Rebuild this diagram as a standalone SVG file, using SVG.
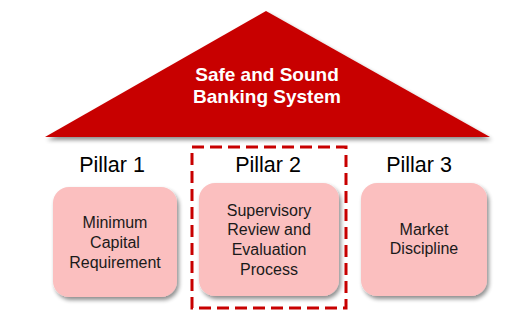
<svg xmlns="http://www.w3.org/2000/svg" width="509" height="331" viewBox="0 0 509 331">
<defs>
<filter id="sh" x="-10%" y="-10%" width="130%" height="130%">
<feGaussianBlur in="SourceAlpha" stdDeviation="2"/>
<feOffset dx="2" dy="3" result="b"/>
<feComponentTransfer><feFuncA type="linear" slope="0.45"/></feComponentTransfer>
<feMerge><feMergeNode/><feMergeNode in="SourceGraphic"/></feMerge>
</filter>
<style>
.box{fill:#fbbfbf;filter:url(#sh)}
.t{font-family:"Liberation Sans",Arial,sans-serif;font-size:16px;fill:#1a1a1a;text-anchor:middle}
.p{font-family:"Liberation Sans",Arial,sans-serif;font-size:21.5px;fill:#000;text-anchor:middle}
.w{font-family:"Liberation Sans",Arial,sans-serif;font-size:19px;font-weight:bold;fill:#fff;text-anchor:middle}
</style>
</defs>
<rect width="509" height="331" fill="#fff"/>
<g id="roof">
<polygon points="266,11 490,137 45,137" fill="#c80000" filter="url(#sh)"/>
<text class="w" x="267" y="81">Safe and Sound</text>
<text class="w" x="267" y="103">Banking System</text>
</g>
<g id="pillar2-frame">
<rect x="192" y="147" width="154" height="161" fill="none" stroke="#c80000" stroke-width="3" stroke-dasharray="12,6"/>
</g>
<g id="pillar1">
<text class="p" x="112" y="172">Pillar 1</text>
<rect class="box" x="53" y="187" width="124" height="110" rx="16"/>
<text class="t" x="115" y="228">Minimum</text>
<text class="t" x="115" y="248">Capital</text>
<text class="t" x="115" y="268">Requirement</text>
</g>
<g id="pillar2">
<text class="p" x="268" y="172">Pillar 2</text>
<rect class="box" x="199" y="183" width="140" height="113" rx="16"/>
<text class="t" x="269" y="216">Supervisory</text>
<text class="t" x="269" y="235">Review and</text>
<text class="t" x="269" y="255">Evaluation</text>
<text class="t" x="269" y="275">Process</text>
</g>
<g id="pillar3">
<text class="p" x="419" y="172">Pillar 3</text>
<rect class="box" x="361" y="183" width="126" height="113" rx="16"/>
<text class="t" x="424" y="235">Market</text>
<text class="t" x="424" y="254">Discipline</text>
</g>
<g id="connectors"></g>
</svg>
